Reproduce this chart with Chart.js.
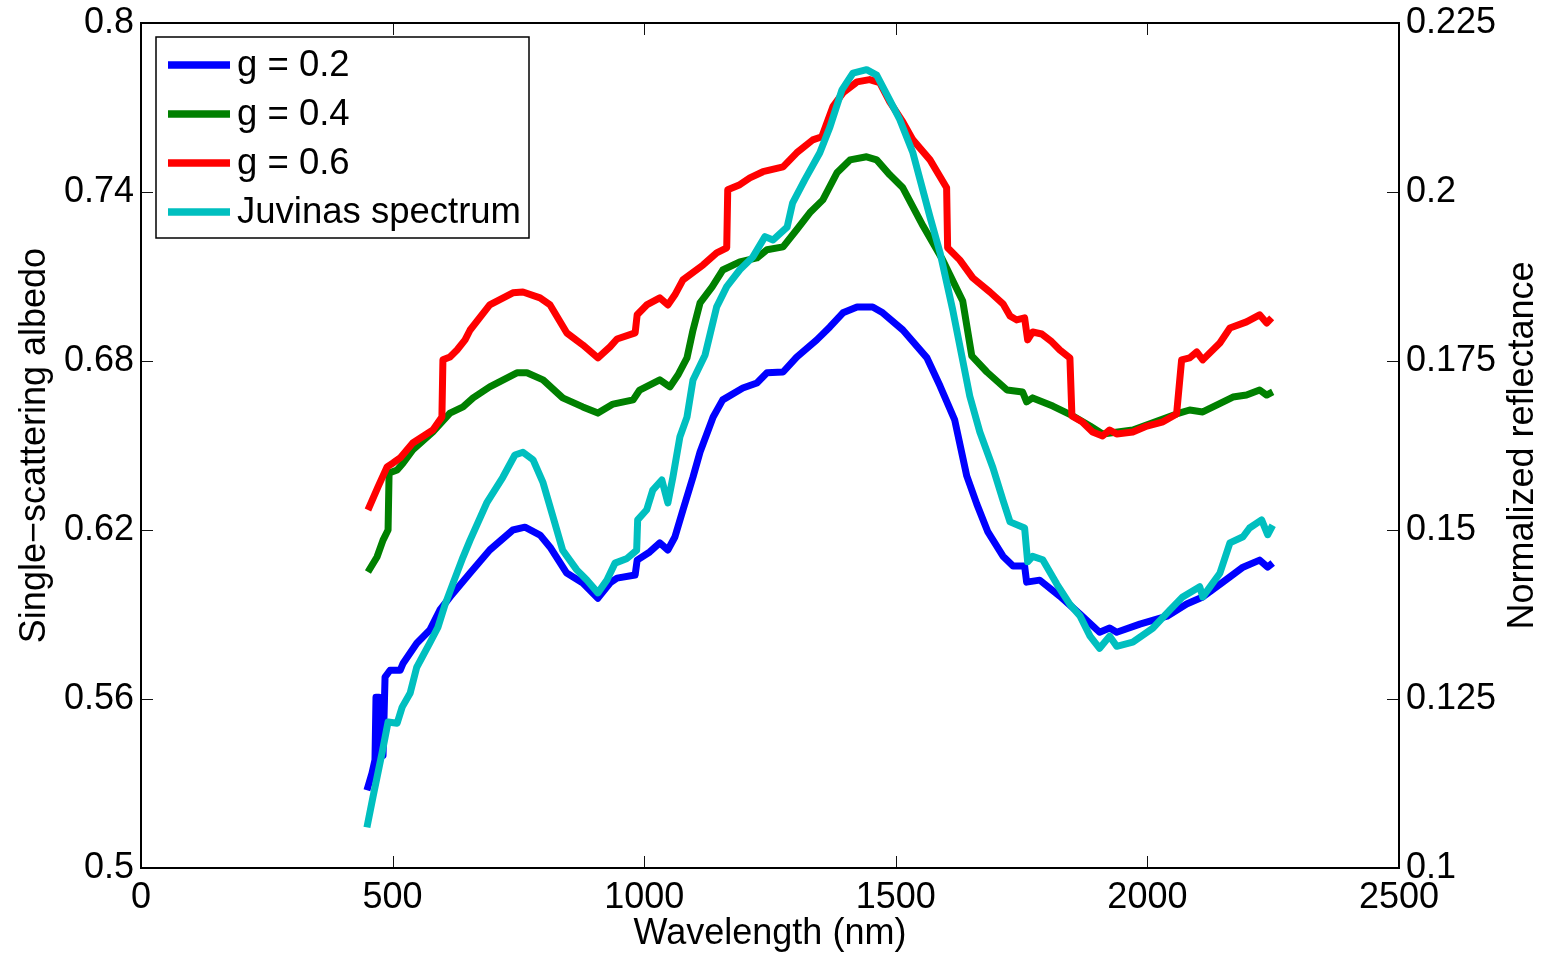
<!DOCTYPE html>
<html lang="en">
<head>
<meta charset="UTF-8" />
<title>Single-scattering albedo and Juvinas spectrum</title>
<script src="https://cdn.jsdelivr.net/npm/chart.js"></script>
<style>
  html, body { margin: 0; padding: 0; background: #fff; }
  #wrap { width: 1544px; height: 956px; }
</style>
</head>
<body>
<div id="wrap"><canvas id="chart" width="1544" height="956"></canvas></div>
<script>
// g = 0.2 (left axis)
const blueWl = [449, 459, 465, 467, 473, 477, 481, 485, 495, 515, 521, 548, 574, 594, 614, 654, 693, 739, 763, 793,
  813, 846, 878, 908, 932, 946, 982, 986, 1011, 1031, 1047, 1061, 1077, 1097, 1111, 1137, 1156, 1196, 1224, 1244,
  1276, 1303, 1343, 1369, 1395, 1423, 1454, 1474, 1514, 1562, 1588, 1617, 1641, 1661, 1683, 1713, 1733, 1756, 1760, 1786,
  1826, 1866, 1905, 1925, 1939, 1985, 2039, 2078, 2110, 2150, 2190, 2223, 2239, 2249];
const blueVal = [0.5276, 0.5336, 0.5383, 0.5606, 0.5606, 0.5400, 0.5400, 0.5678, 0.5702, 0.5702, 0.5727, 0.5798, 0.5845, 0.5916, 0.5962, 0.6047, 0.6129, 0.6200, 0.6210, 0.6182,
  0.6139, 0.6047, 0.6012, 0.5958, 0.6012, 0.6029, 0.6040, 0.6093, 0.6122, 0.6154, 0.6129, 0.6175, 0.6271, 0.6388, 0.6477, 0.6601, 0.6662, 0.6704, 0.6722, 0.6758,
  0.6761, 0.6814, 0.6875, 0.6921, 0.6971, 0.6992, 0.6992, 0.6971, 0.6910, 0.6811, 0.6711, 0.6591, 0.6392, 0.6292, 0.6193, 0.6107, 0.6072, 0.6072, 0.6015, 0.6022,
  0.5965, 0.5901, 0.5837, 0.5852, 0.5837, 0.5866, 0.5894, 0.5937, 0.5962, 0.6015, 0.6068, 0.6093, 0.6068, 0.6083];

// g = 0.4 (left axis)
const greenWl = [451, 469, 481, 491, 493, 509, 521, 540, 580, 614, 640, 660, 693, 747, 767, 799, 838, 878, 908, 938,
  978, 991, 1031, 1051, 1067, 1085, 1097, 1111, 1135, 1156, 1190, 1224, 1244, 1276, 1303, 1329, 1355, 1383, 1409, 1442,
  1462, 1488, 1514, 1554, 1591, 1633, 1651, 1681, 1721, 1752, 1760, 1772, 1812, 1852, 1886, 1911, 1971, 2058, 2084, 2110,
  2170, 2197, 2223, 2237, 2249];
const greenVal = [0.6051, 0.6104, 0.6164, 0.6200, 0.6402, 0.6413, 0.6438, 0.6484, 0.6548, 0.6615, 0.6637, 0.6669, 0.6708, 0.6758, 0.6758, 0.6733, 0.6669, 0.6637, 0.6615, 0.6647,
  0.6662, 0.6697, 0.6733, 0.6708, 0.6750, 0.6811, 0.6910, 0.7006, 0.7063, 0.7123, 0.7152, 0.7166, 0.7195, 0.7205, 0.7266, 0.7326, 0.7372, 0.7468, 0.7514, 0.7525,
  0.7514, 0.7461, 0.7415, 0.7280, 0.7166, 0.7013, 0.6818, 0.6761, 0.6697, 0.6690, 0.6655, 0.6669, 0.6640, 0.6605, 0.6569, 0.6541, 0.6555, 0.6612, 0.6626, 0.6619,
  0.6672, 0.6679, 0.6697, 0.6679, 0.6690];

// g = 0.6 (left axis)
const redWl = [451, 471, 489, 501, 515, 540, 580, 598, 600, 614, 628, 644, 654, 693, 739, 759, 793, 813, 846, 878,
  908, 932, 946, 982, 986, 1005, 1031, 1047, 1061, 1077, 1117, 1144, 1164, 1166, 1190, 1210, 1236, 1276, 1303, 1335,
  1353, 1375, 1395, 1423, 1448, 1468, 1488, 1514, 1534, 1568, 1601, 1603, 1627, 1653, 1687, 1713, 1727, 1740, 1756, 1762,
  1772, 1790, 1810, 1826, 1846, 1850, 1870, 1891, 1911, 1925, 1939, 1971, 1999, 2031, 2058, 2068, 2084, 2098, 2110, 2144,
  2164, 2197, 2223, 2237, 2247];
const redVal = [0.6271, 0.6353, 0.6424, 0.6438, 0.6456, 0.6509, 0.6555, 0.6601, 0.6804, 0.6814, 0.6839, 0.6875, 0.6910, 0.6999, 0.7042, 0.7045, 0.7024, 0.6999, 0.6900, 0.6857,
  0.6811, 0.6850, 0.6878, 0.6900, 0.6964, 0.6999, 0.7024, 0.6999, 0.7035, 0.7088, 0.7141, 0.7184, 0.7202, 0.7408, 0.7426, 0.7450, 0.7472, 0.7489, 0.7539, 0.7585,
  0.7596, 0.7703, 0.7752, 0.7791, 0.7799, 0.7788, 0.7720, 0.7649, 0.7585, 0.7514, 0.7415, 0.7202, 0.7159, 0.7095, 0.7045, 0.7003, 0.6960, 0.6946, 0.6953, 0.6875,
  0.6903, 0.6896, 0.6868, 0.6839, 0.6811, 0.6605, 0.6584, 0.6548, 0.6534, 0.6555, 0.6541, 0.6548, 0.6569, 0.6584, 0.6612, 0.6804, 0.6811, 0.6832, 0.6804, 0.6864,
  0.6917, 0.6939, 0.6964, 0.6935, 0.6953];

// Juvinas spectrum (right axis, normalized reflectance)
const juvWl = [449, 461, 479, 491, 509, 519, 535, 548, 574, 590, 604, 620, 640, 654, 687, 719, 743, 759, 779, 799,
  819, 838, 866, 886, 908, 926, 942, 966, 985, 987, 1005, 1017, 1035, 1047, 1057, 1071, 1085, 1097, 1121, 1144,
  1164, 1190, 1216, 1240, 1256, 1284, 1295, 1319, 1349, 1369, 1393, 1415, 1442, 1462, 1488, 1508, 1534, 1568, 1588, 1613,
  1647, 1667, 1693, 1713, 1727, 1756, 1762, 1772, 1792, 1820, 1846, 1866, 1886, 1905, 1925, 1939, 1971, 2011, 2044, 2070,
  2104, 2110, 2144, 2164, 2190, 2203, 2227, 2239, 2249];
const juvVal = [0.1060, 0.1105, 0.1170, 0.1216, 0.1214, 0.1238, 0.1259, 0.1297, 0.1333, 0.1356, 0.1389, 0.1421, 0.1460, 0.1485, 0.1540, 0.1578, 0.1611, 0.1615, 0.1604, 0.1570,
  0.1519, 0.1470, 0.1441, 0.1426, 0.1407, 0.1426, 0.1451, 0.1458, 0.1470, 0.1515, 0.1530, 0.1559, 0.1574, 0.1540, 0.1578, 0.1638, 0.1667, 0.1722, 0.1759, 0.1830,
  0.1860, 0.1885, 0.1904, 0.1934, 0.1929, 0.1948, 0.1984, 0.2018, 0.2058, 0.2096, 0.2151, 0.2176, 0.2181, 0.2173, 0.2136, 0.2107, 0.2058, 0.1963, 0.1910, 0.1826,
  0.1698, 0.1645, 0.1592, 0.1544, 0.1512, 0.1503, 0.1453, 0.1461, 0.1456, 0.1420, 0.1390, 0.1373, 0.1343, 0.1325, 0.1343, 0.1328, 0.1334, 0.1355, 0.1381, 0.1401,
  0.1416, 0.1401, 0.1436, 0.1481, 0.1490, 0.1503, 0.1515, 0.1493, 0.1507];

const rightTitle = 'Normalized reflectance';

const FONT = '"Liberation Sans", Arial, Helvetica, sans-serif';

function pts(xs, ys) {
  return xs.map((x, i) => ({ x: x, y: ys[i] }));
}

function fmt(v) {
  return String(+v.toFixed(3));
}

// box, inward ticks, legend and the right title, MATLAB style
const matlabFrame = {
  id: 'matlabFrame',
  afterDatasetsDraw(chart) {
    const { ctx, chartArea: a, scales } = chart;
    const tl = 12;
    ctx.save();
    ctx.strokeStyle = '#111';
    ctx.lineWidth = 1;
    ctx.beginPath();
    scales.x.ticks.forEach(t => {
      const px = Math.round(scales.x.getPixelForValue(t.value)) + 0.5;
      ctx.moveTo(px, a.bottom); ctx.lineTo(px, a.bottom - tl);
      ctx.moveTo(px, a.top); ctx.lineTo(px, a.top + tl);
    });
    scales.y.ticks.forEach(t => {
      const py = Math.round(scales.y.getPixelForValue(t.value)) + 0.5;
      ctx.moveTo(a.left, py); ctx.lineTo(a.left + tl, py);
    });
    scales.y1.ticks.forEach(t => {
      const py = Math.round(scales.y1.getPixelForValue(t.value)) + 0.5;
      ctx.moveTo(a.right, py); ctx.lineTo(a.right - tl, py);
    });
    ctx.stroke();

    ctx.strokeStyle = '#000';
    ctx.lineWidth = 2;
    ctx.strokeRect(a.left, a.top, a.right - a.left, a.bottom - a.top);

    // legend
    const lx = a.left + 15, ly = a.top + 14, lw = 373, lh = 201;
    ctx.fillStyle = '#fff';
    ctx.fillRect(lx, ly, lw, lh);
    ctx.lineWidth = 1.5;
    ctx.strokeRect(lx, ly, lw, lh);
    ctx.font = '36.5px ' + FONT;
    ctx.textBaseline = 'middle';
    ctx.textAlign = 'left';
    chart.data.datasets.forEach((ds, i) => {
      const cy = ly + 28 + i * 49;
      ctx.strokeStyle = ds.borderColor;
      ctx.lineWidth = 7.5;
      ctx.beginPath();
      ctx.moveTo(lx + 12, cy);
      ctx.lineTo(lx + 74, cy);
      ctx.stroke();
      ctx.fillStyle = '#000';
      ctx.fillText(ds.label, lx + 81, cy + 1);
    });

    // right axis title, read bottom to top like the left one
    ctx.save();
    ctx.translate(a.right + 124, (a.top + a.bottom) / 2);
    ctx.rotate(-Math.PI / 2);
    ctx.textAlign = 'center';
    ctx.textBaseline = 'middle';
    ctx.font = '36px ' + FONT;
    ctx.fillStyle = '#000';
    ctx.fillText(rightTitle, 0, 0);
    ctx.restore();
    ctx.restore();
  }
};

const lineStyle = {
  borderWidth: 7,
  pointRadius: 0,
  tension: 0,
  fill: false,
  borderJoinStyle: 'round',
  borderCapStyle: 'butt'
};

new Chart(document.getElementById('chart'), {
  type: 'line',
  data: {
    datasets: [
      Object.assign({ label: 'g = 0.2', data: pts(blueWl, blueVal), borderColor: '#0000ff', yAxisID: 'y', order: 4 }, lineStyle),
      Object.assign({ label: 'g = 0.4', data: pts(greenWl, greenVal), borderColor: '#008000', yAxisID: 'y', order: 3 }, lineStyle),
      Object.assign({ label: 'g = 0.6', data: pts(redWl, redVal), borderColor: '#ff0000', yAxisID: 'y', order: 2 }, lineStyle),
      Object.assign({ label: 'Juvinas spectrum', data: pts(juvWl, juvVal), borderColor: '#00bfbf', yAxisID: 'y1', order: 1 }, lineStyle)
    ]
  },
  options: {
    responsive: false,
    animation: false,
    devicePixelRatio: 1,
    layout: { padding: { top: 23, left: 0, right: 0, bottom: 0 } },
    plugins: {
      legend: { display: false },
      tooltip: { enabled: false }
    },
    scales: {
      x: {
        type: 'linear',
        min: 0, max: 2500,
        grid: { display: false, drawTicks: false },
        border: { display: false },
        ticks: { stepSize: 500, color: '#000', font: { size: 36, family: FONT }, padding: 8, maxRotation: 0, autoSkip: false, callback: v => String(v) },
        title: { display: true, text: 'Wavelength (nm)', color: '#000', font: { size: 36, family: FONT }, padding: { top: 0, bottom: 0 } },
        afterFit: s => { s.height = 88; s.paddingLeft = 0; s.paddingRight = 0; }
      },
      y: {
        position: 'left',
        min: 0.5, max: 0.8,
        grid: { display: false, drawTicks: false },
        border: { display: false },
        ticks: { stepSize: 0.06, color: '#000', font: { size: 36, family: FONT }, padding: 7, callback: v => fmt(v) },
        title: { display: true, text: 'Single\u2212scattering albedo', color: '#000', font: { size: 36, family: FONT }, padding: { top: 13, bottom: 0 } },
        afterFit: s => { s.width = 141; s.paddingTop = 0; s.paddingBottom = 0; }
      },
      y1: {
        position: 'right',
        min: 0.1, max: 0.225,
        grid: { display: false, drawTicks: false },
        border: { display: false },
        ticks: { stepSize: 0.025, color: '#000', font: { size: 36, family: FONT }, padding: 7, callback: v => fmt(v) },
        afterFit: s => { s.width = 145; s.paddingTop = 0; s.paddingBottom = 0; }
      }
    }
  },
  plugins: [matlabFrame]
});
</script>
</body>
</html>
